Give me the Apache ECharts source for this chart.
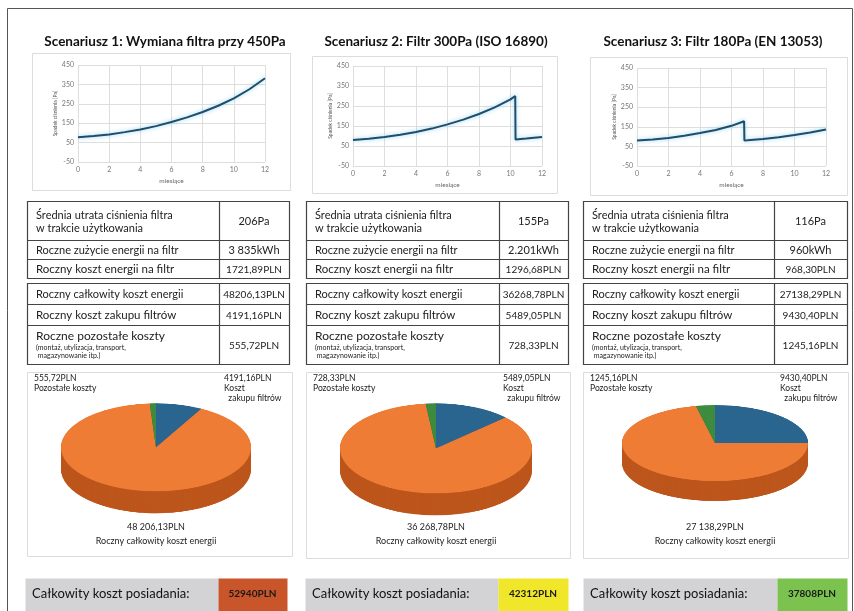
<!DOCTYPE html>
<html>
<head>
<meta charset="utf-8">
<script src="https://cdn.jsdelivr.net/npm/echarts@6/dist/echarts.min.js"></script>
<style>
body { margin: 0; background: #fff; }
#main { position: absolute; left: 0; top: 0; width: 854px; height: 611px; }
.pie { position: absolute; transform-origin: 0 0; }
</style>
</head>
<body>
<div id="main"></div>
<div class="pie" id="pie0"></div>
<div class="pie" id="pie1"></div>
<div class="pie" id="pie2"></div>
<script>
// --- dane ---
const titles = [
  'Scenariusz 1: Wymiana filtra przy 450Pa',
  'Scenariusz 2: Filtr 300Pa (ISO 16890)',
  'Scenariusz 3: Filtr 180Pa (EN 13053)'
]
// spadek ciśnienia [Pa] w kolejnych miesiącach: [miesiąc, Pa]
const pressure1 = [[0, 78], [1, 84], [2, 92], [3, 104], [4, 118], [5, 135], [6, 156], [7, 180], [8, 208], [9, 240], [10, 278], [11, 325], [12, 382]]
const pressure2 = [[0, 80], [1, 86], [2, 95], [3, 106], [4, 120], [5, 137], [6, 158], [7, 182], [8, 210], [9, 243], [10, 283], [10.3, 300], [10.32, 82], [11, 87], [12, 95]]
const pressure3 = [[0, 80], [1, 85], [2, 93], [3, 104], [4, 118], [5, 134], [6, 155], [6.8, 178], [6.82, 80], [7, 81], [8, 88], [9, 97], [10, 108], [11, 121], [12, 136]]
const yTicks = [-50, 50, 150, 250, 350, 450]
const xTicks = [0, 2, 4, 6, 8, 10, 12]

const avgLoss = ['206Pa', '155Pa', '116Pa']
const energyUse = ['3 835kWh', '2.201kWh', '960kWh']
const energyCostFilter = ['1721,89PLN', '1296,68PLN', '968,30PLN']
const totalEnergyCost = [48206.13, 36268.78, 27138.29]
const filterCost = [4191.16, 5489.05, 9430.40]
const otherCost = [555.72, 728.33, 1245.16]
const tco = ['52940PLN', '42312PLN', '37808PLN']
const tcoColors = ['#c9552b', '#f0e62a', '#7bc24f']

// --- układ ---
const font = 'Lato, "Open Sans", sans-serif'
const grids = [
  { left: 78, top: 65, width: 187, height: 97 },
  { left: 353, top: 66, width: 189, height: 100 },
  { left: 637, top: 68, width: 189, height: 98 }
]
const chartPanels = [[32, 53, 258, 137], [312, 56, 245, 137], [590, 57, 257, 138]]
const piePanels = [[27, 372, 265, 184], [306, 372, 264, 186], [583, 372, 265, 186]]
const titleX = [165, 436, 713]
const tableX = [[27, 219, 289], [306, 499, 568], [583, 774, 847]]
const rowsA = [201, 240, 259, 278]
const rowsB = [283, 304, 325, 364]
const pies = [
  { cx: 156, cy: 447, rx: 95, ry: 44, depth: 22 },
  { cx: 436, cy: 448, rx: 96, ry: 45, depth: 22 },
  { cx: 715, cy: 443, rx: 93, ry: 38, depth: 20 }
]
const bars = [[25, 218, 287], [305, 498, 568], [583, 777, 847]]

function plain(v) {
  return v.toFixed(2).replace('.', ',') + 'PLN'
}
function spaced(v) {
  const parts = v.toFixed(2).split('.')
  return parts[0].replace(/\B(?=(\d{3})+(?!\d))/g, ' ') + ',' + parts[1] + 'PLN'
}

const graphic = []
function txt(x, y, text, size, opts) {
  graphic.push({
    type: 'text', x: x, y: y, silent: true,
    style: Object.assign({
      text: text, font: (opts && opts.bold ? 'bold ' : '') + size + 'px ' + font,
      fill: '#222', align: 'left', verticalAlign: 'middle'
    }, opts && opts.style)
  })
}
function box(x, y, w, h, stroke, fill, lw) {
  graphic.push({
    type: 'rect', silent: true, z: -1,
    shape: { x: x + 0.5, y: y + 0.5, width: w, height: h },
    style: { fill: fill || 'none', stroke: stroke || 'none', lineWidth: lw || 1 }
  })
}

// ramka
box(7, 8, 845, 620, '#555', null, 1)

for (let i = 0; i < 3; i++) {
  txt(titleX[i], 42, titles[i], 13.5, { bold: true, style: { align: 'center', fill: '#111' } })
  const cp = chartPanels[i]
  box(cp[0], cp[1], cp[2], cp[3], '#dcdcdc')
  const pp = piePanels[i]
  box(pp[0], pp[1], pp[2], pp[3], '#dcdcdc')

  // tabele
  const tx = tableX[i]
  box(tx[0], rowsA[0], tx[2] - tx[0], rowsA[3] - rowsA[0], '#444', '#fff', 1.2)
  box(tx[0], rowsB[0], tx[2] - tx[0], rowsB[3] - rowsB[0], '#444', '#fff', 1.2)
  ;[rowsA, rowsB].forEach(function (rows) {
    graphic.push({ type: 'line', silent: true, shape: { x1: tx[1] + 0.5, y1: rows[0], x2: tx[1] + 0.5, y2: rows[3] }, style: { stroke: '#444', lineWidth: 1.2 } })
    for (let r = 1; r < 3; r++) {
      graphic.push({ type: 'line', silent: true, shape: { x1: tx[0], y1: rows[r] + 0.5, x2: tx[2], y2: rows[r] + 0.5 }, style: { stroke: '#444', lineWidth: 1.2 } })
    }
  })
  const lx = tx[0] + 9
  const vx = (tx[1] + tx[2]) / 2
  const mid = function (rows, r) { return (rows[r] + rows[r + 1]) / 2 + 1 }
  txt(lx, mid(rowsA, 0), 'Średnia utrata ciśnienia filtra\nw trakcie użytkowania', 11, { style: { lineHeight: 13 } })
  txt(lx, mid(rowsA, 1), 'Roczne zużycie energii na filtr', 11)
  txt(lx, mid(rowsA, 2), 'Roczny koszt energii na filtr', 11.5)
  txt(vx, mid(rowsA, 0), avgLoss[i], 11, { style: { align: 'center' } })
  txt(vx, mid(rowsA, 1), energyUse[i], 11, { style: { align: 'center' } })
  txt(vx, mid(rowsA, 2), energyCostFilter[i], 10, { style: { align: 'center' } })

  txt(lx, mid(rowsB, 0), 'Roczny całkowity koszt energii', 11)
  txt(lx, mid(rowsB, 1), 'Roczny koszt zakupu filtrów', 11.5)
  txt(lx, rowsB[2] + 11, 'Roczne pozostałe koszty', 12)
  txt(lx, rowsB[2] + 27, '(montaż, utylizacja, transport,\n magazynowanie itp.)', 7, { style: { lineHeight: 8 } })
  txt(vx, mid(rowsB, 0), plain(totalEnergyCost[i]), 10, { style: { align: 'center' } })
  txt(vx, mid(rowsB, 1), plain(filterCost[i]), 10, { style: { align: 'center' } })
  txt(vx, mid(rowsB, 2), plain(otherCost[i]), 10, { style: { align: 'center' } })

  // opisy wykresów kołowych
  const pc = pies[i]
  txt(pp[0] + 7, 383, plain(otherCost[i]) + '\nPozostałe koszty', 8.5, { style: { lineHeight: 10 } })
  txt(pp[0] + 197, 388, plain(filterCost[i]) + '\nKoszt\n  zakupu filtrów', 8.5, { style: { lineHeight: 10 } })
  txt(pc.cx, 527, spaced(totalEnergyCost[i]), 9, { style: { align: 'center' } })
  txt(pc.cx, 541, 'Roczny całkowity koszt energii', 9, { style: { align: 'center' } })

  // koszt posiadania
  const b = bars[i]
  box(b[0], 578, b[1] - b[0], 40, null, '#d3d3d5')
  box(b[1], 578, b[2] - b[1], 40, null, tcoColors[i])
  txt(b[0] + 7, 594, 'Całkowity koszt posiadania:', 13, { style: { fill: '#111' } })
  txt((b[1] + b[2]) / 2, 594, tco[i], 10, { bold: true, style: { align: 'center', fill: '#1a1a1a' } })
}

const pressures = [pressure1, pressure2, pressure3]
const option = {
  animation: false,
  textStyle: { fontFamily: font },
  grid: grids,
  xAxis: grids.map(function (g, i) {
    return {
      type: 'value', gridIndex: i, min: xTicks[0], max: xTicks[xTicks.length - 1], interval: 2,
      name: 'miesiące', nameLocation: 'middle', nameGap: 15,
      nameTextStyle: { fontSize: 6.5, color: '#666' },
      axisLine: { show: false }, axisTick: { show: false },
      axisLabel: { fontSize: 7, color: '#777', margin: 4 },
      splitLine: { lineStyle: { color: '#dedede' } }
    }
  }),
  yAxis: grids.map(function (g, i) {
    return {
      type: 'value', gridIndex: i, min: yTicks[0], max: yTicks[yTicks.length - 1], interval: 100,
      name: 'Spadek ciśnienia [Pa]', nameLocation: 'middle', nameRotate: 90, nameGap: 20,
      nameTextStyle: { fontSize: 5, color: '#555' },
      axisLine: { show: false }, axisTick: { show: false },
      axisLabel: { fontSize: 7, color: '#777', margin: 4 },
      splitLine: { lineStyle: { color: '#dedede' } }
    }
  }),
  series: pressures.map(function (d, i) {
    return {
      type: 'line', xAxisIndex: i, yAxisIndex: i, data: d, symbol: 'none',
      lineStyle: { color: '#1f4d6b', width: 2, shadowColor: 'rgba(130,205,240,0.9)', shadowBlur: 4 }
    }
  }),
  graphic: graphic
}
echarts.init(document.getElementById('main')).setOption(option)

// wykresy kołowe "3D": koło spłaszczone w pionie + warstwy boczne
const topColors = ['#2a6590', '#ee7c34', '#3d8b3e']
const sideColors = ['#1c4866', '#bd561c', '#2a652c']
pies.forEach(function (p, i) {
  const s = p.ry / p.rx
  const R = p.rx
  const D = p.depth / s
  const el = document.getElementById('pie' + i)
  el.style.width = (2 * R + 10) + 'px'
  el.style.height = (2 * R + D + 10) + 'px'
  el.style.left = (p.cx - R - 5) + 'px'
  el.style.top = (p.cy - (R + 5) * s) + 'px'
  el.style.transform = 'scaleY(' + s + ')'
  const values = [filterCost[i], totalEnergyCost[i], otherCost[i]]
  const offsets = []
  for (let off = D; off > 0; off -= 2) offsets.push(off)
  offsets.push(0)
  const series = offsets.map(function (off, n) {
    const top = off === 0
    return {
      type: 'pie', radius: R, center: [R + 5, R + 5 + off], startAngle: 90, z: 2 + n,
      silent: true, label: { show: false }, labelLine: { show: false },
      data: values.map(function (v, k) {
        return { value: v, itemStyle: { color: top ? topColors[k] : sideColors[k] } }
      })
    }
  })
  echarts.init(el).setOption({ animation: false, series: series })
})
</script>
</body>
</html>
